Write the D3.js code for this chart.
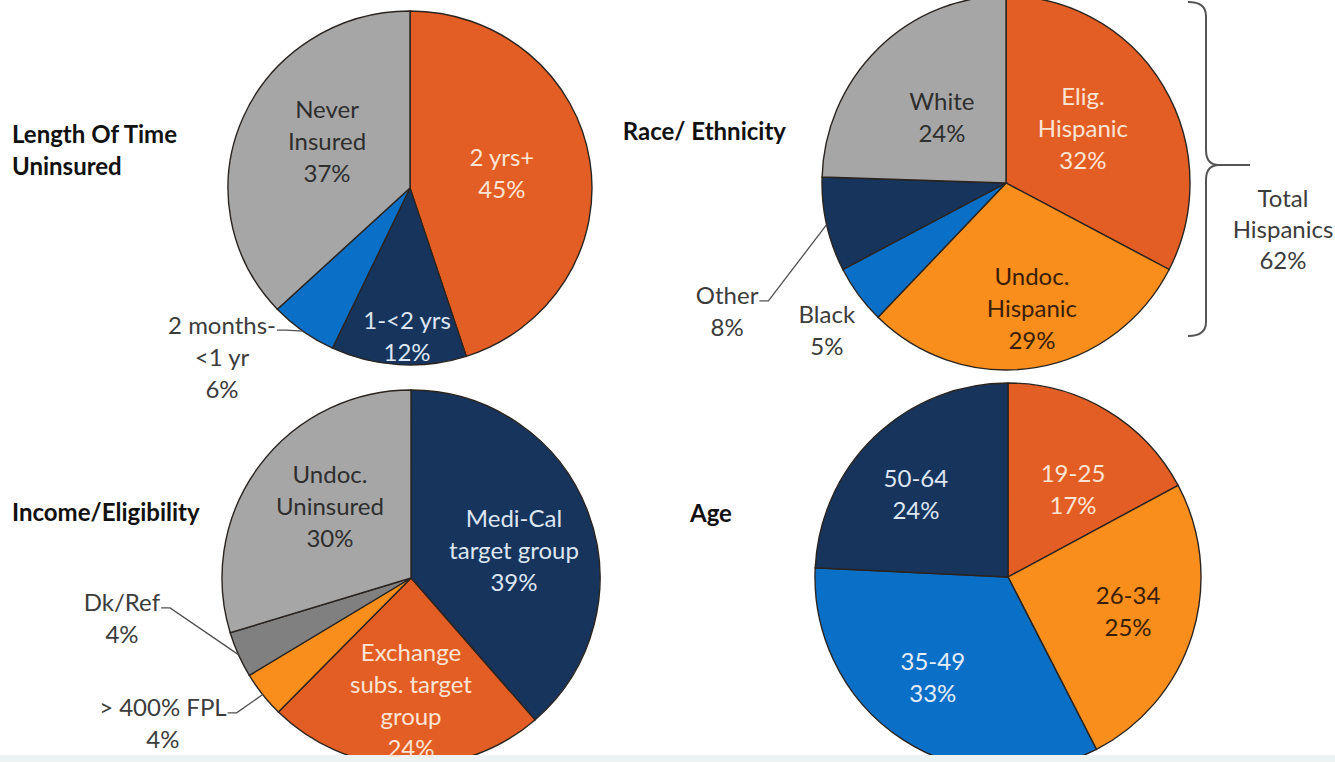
<!DOCTYPE html>
<html>
<head>
<meta charset="utf-8">
<script src="https://cdn.jsdelivr.net/npm/d3@7/dist/d3.min.js"></script>
<style>
  html, body { margin: 0; padding: 0; background: #ffffff; }
  svg { display: block; }
  text { font-family: Lato, "Open Sans", sans-serif; }
</style>
</head>
<body>
<svg id="chart" width="1335" height="762"></svg>
<script>
// ---------------- DATA ----------------
const lengthCats = ["2 yrs+", "1-<2 yrs", "2 months-|<1 yr", "Never|Insured"];
const lengthVals = [45, 12, 6, 37];

const raceCats = ["Elig.|Hispanic", "Undoc.|Hispanic", "Black", "Other", "White"];
const raceVals = [32, 29, 5, 8, 24];

const incomeCats = ["Medi-Cal|target group", "Exchange|subs. target|group", "> 400% FPL", "Dk/Ref", "Undoc.|Uninsured"];
const incomeVals = [39, 24, 4, 4, 30];

const ageCats = ["19-25", "26-34", "35-49", "50-64"];
const ageVals = [17, 25, 33, 24];

const chartTitles = [["Length Of Time", "Uninsured"], ["Race/ Ethnicity"], ["Income/Eligibility"], ["Age"]];
const bracketLines = ["Total", "Hispanics", "62%"];

// ---------------- STYLE / LAYOUT ----------------
const C = {
  red: "#E35E25", orange: "#F98E1C", navy: "#17345C", blue: "#0A6FC6",
  gray: "#A6A6A6", dgray: "#808080"
};
const T = {
  onRed: "#FCE4D4", onOrange: "#3A1E08", onNavy: "#DDE6F3", onBlue: "#E4EDF8",
  onGray: "#2E2E2E", ext: "#3C3C3C"
};

const pies = [
  { cats: lengthCats, vals: lengthVals, cx: 410, cy: 188, rx: 182, ry: 177,
    fill: [C.red, C.navy, C.blue, C.gray],
    tcol: [T.onRed, T.onNavy, T.ext, T.onGray],
    lab: [[80.4, 0.512], [181.1, 0.836], [227.4, 1.403], [300.7, 0.53]],
    leader: [false, false, true, false],
    title: { x: 12, y: 133, anchor: "start" } },
  { cats: raceCats, vals: raceVals, cx: 1006, cy: 183, rx: 184, ry: 187,
    fill: [C.red, C.orange, C.blue, C.navy, C.gray],
    tcol: [T.onRed, T.onOrange, T.ext, T.ext, T.onGray],
    lab: [[54.4, 0.514], [168.0, 0.678], [231.1, 1.251], [245.7, 1.663], [315.4, 0.496]],
    leader: [false, false, false, true, false],
    title: { x: 786, y: 130, anchor: "end" } },
  { cats: incomeCats, vals: incomeVals, cx: 411, cy: 578, rx: 189, ry: 188,
    fill: [C.navy, C.red, C.orange, C.dgray, C.gray],
    tcol: [T.onNavy, T.onRed, T.ext, T.ext, T.onGray],
    lab: [[74.7, 0.565], [180, 0.645], [239.6, 1.522], [262.1, 1.544], [311.8, 0.575]],
    leader: [false, false, true, true, false],
    title: { x: 12, y: 511, anchor: "start" } },
  { cats: ageCats, vals: ageVals, cx: 1008, cy: 577, rx: 193, ry: 194,
    fill: [C.red, C.orange, C.blue, C.navy],
    tcol: [T.onRed, T.onOrange, T.onBlue, T.onNavy],
    lab: [[36.3, 0.569], [105.3, 0.645], [217.1, 0.646], [312.2, 0.644]],
    leader: [false, false, false, false],
    title: { x: 690, y: 512, anchor: "start" } }
];

const FS = 24, LH = 32;
const svg = d3.select("#chart");
const pieLayer = svg.append("g");
const stripLayer = svg.append("g");
const textLayer = svg.append("g");

const deg = Math.PI / 180;

pies.forEach((p, pi) => {
  const arcs = d3.pie().sort(null).value(d => d)(p.vals);
  const arcGen = d3.arc().innerRadius(0).outerRadius(p.rx);
  const sy = p.ry / p.rx;
  const g = pieLayer.append("g").attr("transform", `translate(${p.cx},${p.cy}) scale(1,${sy})`);
  g.selectAll("path").data(arcs).join("path")
    .attr("d", arcGen)
    .attr("fill", (d, i) => p.fill[i])
    .attr("stroke", "#2A2420")
    .attr("stroke-width", 1.4)
    .attr("vector-effect", "non-scaling-stroke");

  const pt = (ang, rf) => [p.cx + rf * p.rx * Math.sin(ang * deg), p.cy - rf * p.ry * Math.cos(ang * deg)];

  arcs.forEach((a, i) => {
    const lines = p.cats[i].split("|").concat([p.vals[i] + "%"]);
    const [x, y] = pt(p.lab[i][0], p.lab[i][1]);
    const n = lines.length;
    const t = textLayer.append("text")
      .attr("text-anchor", "middle")
      .attr("font-size", FS)
      .attr("fill", p.tcol[i]);
    lines.forEach((ln, k) => {
      t.append("tspan").attr("x", x).attr("y", y + (k - (n - 1) / 2) * LH)
        .attr("dominant-baseline", "central").text(ln);
    });
    if (p.leader[i]) {
      const first = t.select("tspan").node();
      const w = first.getComputedTextLength();
      const endX = x + w / 2 + 1;
      const ly = y - (n - 1) / 2 * LH + 6;
      const mid = (a.startAngle + a.endAngle) / 2 / deg;
      const edge = pt(mid, 1);
      textLayer.append("path")
        .attr("d", d3.line()([[endX, ly], [endX + 9, ly], edge]))
        .attr("fill", "none").attr("stroke", "#505050").attr("stroke-width", 1.3);
    }
  });

  const tt = textLayer.append("text").attr("font-size", FS).attr("font-weight", "bold")
    .attr("fill", "#111").attr("text-anchor", p.title.anchor);
  chartTitles[pi].forEach((ln, k) => {
    tt.append("tspan").attr("x", p.title.x).attr("y", p.title.y + k * LH)
      .attr("dominant-baseline", "central").text(ln);
  });
});

// bottom strip (over the pies, under the text)
stripLayer.append("rect").attr("x", 0).attr("y", 755).attr("width", 1335).attr("height", 7).attr("fill", "#EDF2F3");

// Bracket for Total Hispanics
textLayer.append("path")
  .attr("d", "M1188,2 Q1206,2 1206,16 L1206,150 Q1206,165 1219,165 L1250,165 M1219,165 Q1206,165 1206,180 L1206,322 Q1206,336 1188,336")
  .attr("fill", "none").attr("stroke", "#555").attr("stroke-width", 2);

const bt = textLayer.append("text").attr("text-anchor", "middle").attr("font-size", FS).attr("fill", T.ext);
bracketLines.forEach((ln, k) => {
  bt.append("tspan").attr("x", 1283).attr("y", 197 + k * 31).attr("dominant-baseline", "central").text(ln);
});
</script>
</body>
</html>
